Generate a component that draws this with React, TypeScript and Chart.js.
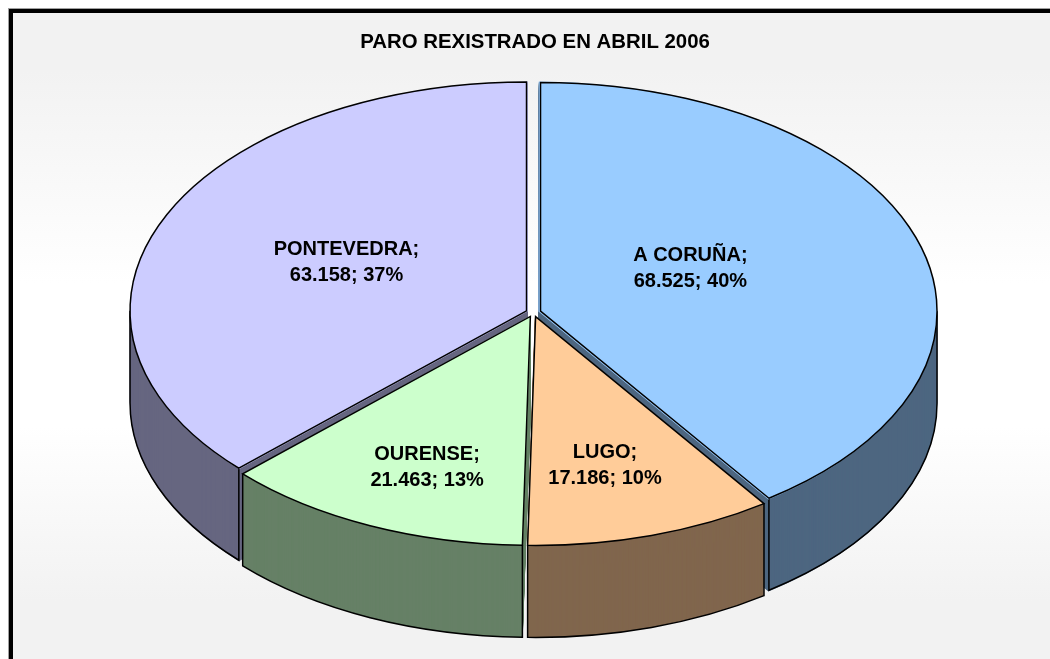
import React, { useEffect, useRef } from "react";
import { Chart, registerables } from "chart.js";

Chart.register(...registerables);

const TITLE = "PARO REXISTRADO EN ABRIL 2006";
const categories = ["A CORUÑA", "LUGO", "OURENSE", "PONTEVEDRA"];
const values = [68525, 17186, 21463, 63158];
const topColors = ["#99CCFF", "#FFCC99", "#CCFFCC", "#CCCCFF"];
const wallColors = ["#4D6680", "#80664D", "#668066", "#666680"];
const sliceOffsets = [21, 21.3, 23.3, 23.5];
const labelNudges = [[-42, -8], [10.5, 38], [-21.5, 44], [6, -2.5]];

const CX = 533.4;
const CY = 312.5;
const RADIUS = 396.5;
const RATIO = 0.577;
const DEPTH = 92;
const LINE = 1.5;
const FONT = "Arial, 'Liberation Sans', sans-serif";

const fmt = (v: number) => String(v).replace(/\B(?=(\d{3})+$)/g, ".");

const project = (ctx: any, arc: any, d: number) => {
  ctx.setTransform(1, 0, 0, RATIO, CX - arc.x, CY + d - arc.y * RATIO);
};

const shifted = (arc: any) => {
  const mid = (arc.startAngle + arc.endAngle) / 2;
  const off = (arc.options.offset || 0) / 4;
  const total = off * (2 - Math.sin(Math.min(Math.PI, arc.circumference)));
  return {
    x: CX + Math.cos(mid) * total,
    y: CY + Math.sin(mid) * total * RATIO,
  };
};

const pie3d = {
  id: "pie3d",
  beforeDraw(chart: any) {
    const { ctx, width, height } = chart;
    ctx.save();
    const g = ctx.createLinearGradient(0, 12, 0, 659);
    g.addColorStop(0, "#F2F2F2");
    g.addColorStop(0.09, "#F2F2F2");
    g.addColorStop(0.42, "#FFFFFF");
    g.addColorStop(0.64, "#FFFFFF");
    g.addColorStop(0.91, "#F2F2F2");
    g.addColorStop(1, "#F2F2F2");
    ctx.fillStyle = "#FFFFFF";
    ctx.fillRect(0, 0, width, height);
    ctx.fillStyle = g;
    ctx.fillRect(11, 11, width, height);
    ctx.strokeStyle = "#A0A0A0";
    ctx.lineWidth = 1;
    ctx.strokeRect(8.5, 8.5, width + 20, height + 20);
    ctx.strokeStyle = "#000000";
    ctx.lineWidth = 4;
    ctx.strokeRect(11, 11, width + 20, height + 20);
    ctx.restore();
  },
  beforeDatasetsDraw(chart: any) {
    const { ctx } = chart;
    const arcs = chart.getDatasetMeta(0).data;
    ctx.save();
    for (let d = DEPTH; d >= 1; d--) {
      arcs.forEach((arc: any, i: number) => {
        const ghost = Object.create(arc);
        ghost.options = { ...arc.options, backgroundColor: wallColors[i], borderWidth: 0 };
        ctx.save();
        project(ctx, arc, d);
        ghost.draw(ctx);
        ctx.restore();
      });
    }
    ctx.restore();
    ctx.save();
    ctx.strokeStyle = "#000000";
    ctx.lineWidth = LINE;
    arcs.forEach((arc: any) => {
      const a0 = Math.max(arc.startAngle, 0);
      const a1 = Math.min(arc.endAngle, Math.PI);
      if (a1 <= a0) return;
      const c = shifted(arc);
      const ry = arc.outerRadius * RATIO;
      ctx.beginPath();
      ctx.moveTo(c.x + arc.outerRadius * Math.cos(a0), c.y + ry * Math.sin(a0));
      ctx.ellipse(c.x, c.y + DEPTH, arc.outerRadius, ry, 0, a0, a1);
      ctx.lineTo(c.x + arc.outerRadius * Math.cos(a1), c.y + ry * Math.sin(a1));
      ctx.stroke();
    });
    ctx.restore();
    ctx.save();
    project(ctx, arcs[0], 0);
  },
  afterDatasetsDraw(chart: any) {
    const { ctx } = chart;
    ctx.restore();
    const arcs = chart.getDatasetMeta(0).data;
    const total = values.reduce((s, v) => s + v, 0);
    ctx.save();
    ctx.strokeStyle = "#000000";
    ctx.lineWidth = LINE;
    ctx.lineJoin = "miter";
    arcs.forEach((arc: any) => {
      const c = shifted(arc);
      ctx.beginPath();
      ctx.moveTo(c.x, c.y);
      ctx.ellipse(c.x, c.y, arc.outerRadius, arc.outerRadius * RATIO, 0, arc.startAngle, arc.endAngle);
      ctx.closePath();
      ctx.stroke();
    });
    ctx.fillStyle = "#000000";
    ctx.font = `bold 20px ${FONT}`;
    ctx.textAlign = "center";
    ctx.textBaseline = "middle";
    arcs.forEach((arc: any, i: number) => {
      const p = arc.getCenterPoint();
      const x = CX + (p.x - arc.x) + labelNudges[i][0];
      const y = CY + (p.y - arc.y) * RATIO + labelNudges[i][1];
      ctx.fillText(`${categories[i]};`, x, y - 13);
      ctx.fillText(`${fmt(values[i])}; ${Math.round((values[i] / total) * 100)}%`, x, y + 13);
    });
    ctx.restore();
  },
};

export default function App() {
  const ref = useRef<HTMLCanvasElement>(null);
  useEffect(() => {
    document.body.style.margin = "0";
    const chart = new Chart(ref.current as HTMLCanvasElement, {
      type: "pie",
      data: {
        labels: categories,
        datasets: [
          {
            data: values,
            backgroundColor: topColors,
            borderWidth: 0,
            offset: sliceOffsets,
            clip: false,
          } as any,
        ],
      },
      options: {
        responsive: false,
        animation: false,
        radius: RADIUS,
        layout: { padding: { left: 20 } },
        plugins: {
          legend: { display: false },
          tooltip: { enabled: false },
          title: {
            display: true,
            text: TITLE,
            color: "#000000",
            font: { family: FONT, size: 20.4, weight: "bold" },
            padding: { top: 30, bottom: 10 },
          },
        },
      } as any,
      plugins: [pie3d],
    });
    return () => chart.destroy();
  }, []);
  return <canvas ref={ref} width={1050} height={659} style={{ display: "block" }} />;
}
